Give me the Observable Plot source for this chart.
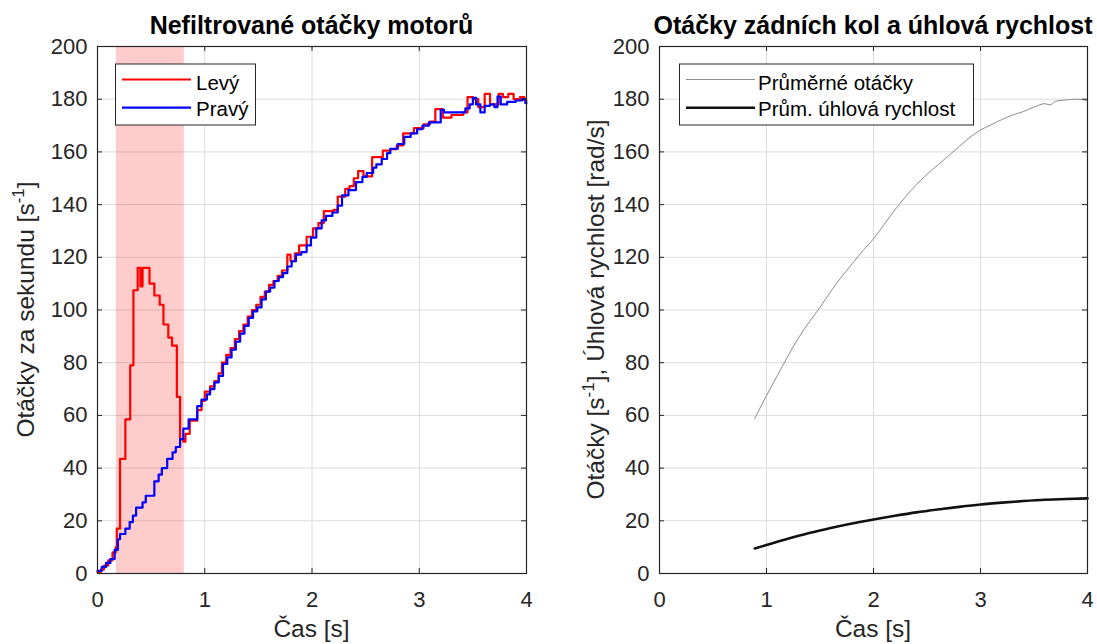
<!DOCTYPE html>
<html><head><meta charset="utf-8">
<script src="https://cdn.jsdelivr.net/npm/d3@7"></script>
<script src="https://cdn.jsdelivr.net/npm/@observablehq/plot@0.6"></script>
<style>
body{margin:0;background:#fff;}
#root{position:relative;width:1097px;height:644px;overflow:hidden;font-family:"Liberation Sans",Arial,sans-serif;}
#root > svg{position:absolute;top:0;}
</style></head><body><div id="root"></div><script>
// ---------- data ----------
const xTicks = [0, 1, 2, 3, 4];
const yTicks = [0, 20, 40, 60, 80, 100, 120, 140, 160, 180, 200];

const titleLeft = "Nefiltrované otáčky motorů";
const titleRight = "Otáčky zádních kol a úhlová rychlost";
const xLabel = "Čas [s]";
const legendLeft = ["Levý", "Pravý"];
const legendRight = ["Průměrné otáčky", "Prům. úhlová rychlost"];

// shaded interval (s)
const shadeStart = [0.175];
const shadeEnd = [0.81];

// Levý (left motor), step values
const levyT = [0.00,0.03,0.06,0.10,0.14,0.17,0.18,0.21,0.26,0.305,0.335,0.375,0.40,0.42,0.485,0.53,0.58,0.615,0.66,0.695,0.74,0.77,0.80,0.82,0.86,0.93,0.97,1.00,1.05,1.09,1.13,1.16,1.20,1.24,1.28,1.32,1.36,1.40,1.44,1.48,1.52,1.56,1.60,1.64,1.68,1.72,1.77,1.80,1.84,1.88,1.95,2.01,2.06,2.11,2.20,2.24,2.31,2.35,2.39,2.43,2.48,2.56,2.66,2.73,2.79,2.85,2.95,3.04,3.10,3.15,3.22,3.30,3.41,3.45,3.50,3.55,3.61,3.66,3.74,3.78,3.83,3.88,3.94,3.98,4.00];
const levyV = [0.5,1.5,3,5,8,10,17,43.5,58.5,79,107.5,116,109,116,110,105.5,102,94.5,89.5,86.5,67,51,50,53,58,62,65.5,69,71,73,76,80,83,85.5,89,92,94.5,97.5,100,102,105,107,109.5,111,113,115,121,118.5,121.5,124.5,127.8,131,133,137.5,138,143,146,147,150,152.7,150.7,158,160.5,161,162.5,167,169,170.5,171.5,176.2,173,174,175,180.8,180,177,182,178,182,180.8,182,180,180.8,179.5,179.5];

// Pravý (right motor), step values
const pravyT = [0.00,0.04,0.08,0.12,0.16,0.19,0.21,0.26,0.30,0.33,0.36,0.42,0.45,0.53,0.57,0.60,0.65,0.70,0.73,0.77,0.80,0.85,0.93,0.97,1.02,1.05,1.09,1.13,1.17,1.21,1.25,1.29,1.33,1.37,1.41,1.45,1.49,1.53,1.57,1.61,1.65,1.69,1.73,1.77,1.81,1.85,1.90,1.95,1.99,2.04,2.09,2.13,2.19,2.24,2.28,2.34,2.41,2.47,2.51,2.57,2.60,2.65,2.70,2.73,2.80,2.86,2.92,2.98,3.03,3.09,3.20,3.23,3.43,3.47,3.50,3.53,3.57,3.61,3.66,3.70,3.73,3.76,3.82,3.90,3.96,3.99,4.00];
const pravyV = [1,2.5,4,5.5,9,13,15,17,19.5,22,25,27,29.5,35,37.5,40,43.5,46,48,51,55,58.5,63.5,66,68,70,72.5,75,79.5,82,85,88,91,94,97,99.5,101,104,107,108.5,111,112.5,114,116.5,118.5,121,122,124.5,127.5,131,134,135.7,137,139.6,143.5,145.5,148.5,150.5,152,154,155.3,157.3,159.5,161.2,163,165.7,167,168.6,170,171.2,176,175,176.5,178,180.5,178,175,177.5,178,177,181,178,179,179.5,180,178.5,178.5];

// Průměrné otáčky
const avgT = [0.89,1.0,1.1,1.2,1.3,1.4,1.5,1.6,1.7,1.8,1.9,2.0,2.1,2.2,2.3,2.4,2.5,2.6,2.7,2.8,2.9,3.0,3.1,3.2,3.3,3.4,3.5,3.6,3.65,3.7,3.8,3.9,4.0];
const avgV = [58.8,67.5,75,82.5,89.5,95.5,101,107,112.5,117.5,122.5,127,132.5,138,143,147.5,151.5,155,158.5,162,165.5,168.3,170.3,172.3,174,175.3,177,178.3,177.8,179.2,179.7,180,179.5];

// Průměrná úhlová rychlost
const omegaT = [0.89,1.0,1.2,1.4,1.6,1.8,2.0,2.2,2.4,2.6,2.8,3.0,3.2,3.4,3.6,3.8,4.0];
const omegaV = [9.5,10.8,13.2,15.4,17.3,19.0,20.5,21.9,23.2,24.3,25.3,26.2,26.9,27.5,28.0,28.3,28.5];

// ---------- build ----------
const zip = (t, v) => t.map((d, i) => ({t: d, v: v[i]}));
const levy = zip(levyT, levyV);
const pravy = zip(pravyT, pravyV);
const avg = zip(avgT, avgV);
const omega = zip(omegaT, omegaV);
const shade = shadeStart.map((s, i) => ({x1: s, x2: shadeEnd[i]}));

const H = 644, MT = 46, MB = 71;
const frameH = H - MT - MB;
const axisColor = "#262626";

function panel({left, width, marginLeft, marginRight, marks}) {
  const frameW = width - marginLeft - marginRight;
  const svg = Plot.plot({
    width, height: H, marginLeft, marginRight, marginTop: MT, marginBottom: MB,
    x: {domain: [0, 4]},
    y: {domain: [0, 200]},
    style: {fontFamily: "'Liberation Sans', Arial, sans-serif", fontSize: "22px", color: axisColor, background: "transparent", overflow: "visible"},
    marks: [
      Plot.gridX(xTicks, {stroke: "#dcdcdc", strokeOpacity: 1}),
      Plot.gridY(yTicks, {stroke: "#dcdcdc", strokeOpacity: 1}),
      ...marks,
      Plot.ruleX(xTicks, {insetTop: frameH - 5, stroke: axisColor}),
      Plot.ruleX(xTicks, {insetBottom: frameH - 5, stroke: axisColor}),
      Plot.ruleY(yTicks, {insetRight: frameW - 5, stroke: axisColor}),
      Plot.ruleY(yTicks, {insetLeft: frameW - 5, stroke: axisColor}),
      Plot.frame({stroke: axisColor, strokeWidth: 1.2}),
      Plot.axisX(xTicks, {tickSize: 0, tickPadding: 18, label: null}),
      Plot.axisY(yTicks, {tickSize: 0, tickPadding: 10, label: null})
    ]
  });
  svg.style.left = left + "px";
  document.getElementById("root").appendChild(svg);
}

panel({
  left: 0, width: 550, marginLeft: 97, marginRight: 24,
  marks: [
    Plot.rect(shade, {x1: "x1", x2: "x2", y1: 0, y2: 200, fill: "red", fillOpacity: 0.2}),
    Plot.line(levy, {x: "t", y: "v", curve: "step-after", stroke: "#ff0000", strokeWidth: 2.2}),
    Plot.line(pravy, {x: "t", y: "v", curve: "step-after", stroke: "#0000ff", strokeWidth: 2.2})
  ]
});

panel({
  left: 560, width: 537, marginLeft: 99, marginRight: 10,
  marks: [
    Plot.line(avg, {x: "t", y: "v", stroke: "#8c8c8c", strokeWidth: 1, curve: "monotone-x"}),
    Plot.line(omega, {x: "t", y: "v", stroke: "#111", strokeWidth: 2.6, curve: "monotone-x"})
  ]
});

// ---------- overlay: titles, axis labels, legends ----------
const ov = d3.select("#root").append("svg")
  .attr("width", 1097).attr("height", 644)
  .style("left", "0px").style("pointer-events", "none")
  .style("font-family", "'Liberation Sans', Arial, sans-serif");

// titles
[[titleLeft, 311.5], [titleRight, 873]].forEach(([txt, cx]) => {
  ov.append("text").attr("x", cx).attr("y", 34).attr("text-anchor", "middle")
    .attr("font-weight", "bold").attr("font-size", 25).attr("fill", "#000").text(txt);
});
// x labels
[311.5, 873].forEach(cx => {
  ov.append("text").attr("x", cx).attr("y", 637).attr("text-anchor", "middle")
    .attr("font-size", 24.5).attr("fill", axisColor).text(xLabel);
});
// y labels with superscript
function yLabel(x, pre, post) {
  const t = ov.append("text").attr("transform", `translate(${x},309.5) rotate(-90)`)
    .attr("text-anchor", "middle").attr("font-size", 24.5).attr("fill", axisColor);
  t.append("tspan").text(pre);
  t.append("tspan").attr("dy", -10).attr("font-size", 17).text("-1");
  t.append("tspan").attr("dy", 10).text(post);
}
yLabel(34, "Otáčky za sekundu [s", "]");
yLabel(603.5, "Otáčky [s", "], Úhlová rychlost [rad/s]");

// legends
function legend(x, w, lineX1, lineX2, textX, items) {
  ov.append("rect").attr("x", x).attr("y", 64).attr("width", w).attr("height", 61)
    .attr("fill", "#fff").attr("stroke", axisColor).attr("stroke-width", 1);
  items.forEach((it, i) => {
    const ly = 79.5 + i * 28.2;
    ov.append("line").attr("x1", lineX1).attr("x2", lineX2).attr("y1", ly).attr("y2", ly)
      .attr("stroke", it.color).attr("stroke-width", it.width);
    ov.append("text").attr("x", textX).attr("y", 90 + i * 26).attr("font-size", 20.5)
      .attr("fill", "#000").text(it.label);
  });
}
legend(115.5, 140, 122, 191, 196, [
  {label: legendLeft[0], color: "#ff0000", width: 2.2},
  {label: legendLeft[1], color: "#0000ff", width: 2.2}
]);
legend(679.5, 294, 686, 755, 758, [
  {label: legendRight[0], color: "#8c8c8c", width: 1},
  {label: legendRight[1], color: "#111", width: 2.6}
]);
</script></body></html>
